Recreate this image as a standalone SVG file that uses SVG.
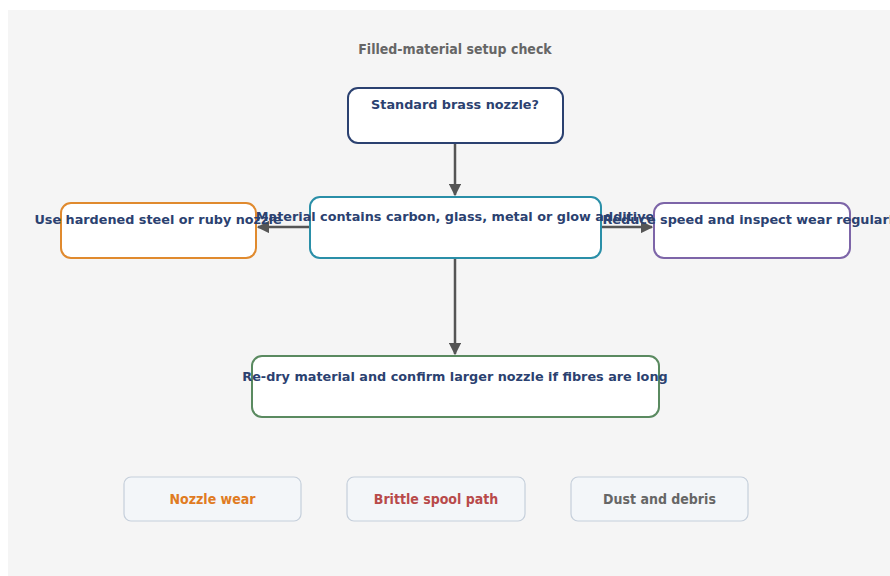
<svg xmlns="http://www.w3.org/2000/svg" width="890" height="576" viewBox="0 0 890 576">
<defs>
<marker id="arr" viewBox="0 0 10 10" refX="9" refY="5" markerWidth="5" markerHeight="5" orient="auto" markerUnits="strokeWidth">
<path d="M0,0 L10,5 L0,10 z" fill="#555"/>
</marker>
<style>
.node{fill:#fff;stroke-width:2}
.lbl{font-family:"DejaVu Sans",sans-serif;font-weight:bold;font-size:12.8px;fill:#2b4170;text-anchor:middle}
.title{font-family:"DejaVu Sans Condensed","DejaVu Sans",sans-serif;font-weight:bold;font-size:14px;fill:#666;text-anchor:middle}
.leg{fill:#f3f6f9;stroke:#c5cfdb;stroke-width:1.2}
.legt{font-family:"DejaVu Sans Condensed","DejaVu Sans",sans-serif;font-weight:bold;font-size:14px;text-anchor:middle}
.edge{stroke:#555;stroke-width:2.5;fill:none;marker-end:url(#arr)}
</style>
</defs>
<rect x="8" y="10" width="890" height="570" fill="#f5f5f5"/>
<text class="title" x="455" y="54">Filled-material setup check</text>
<g id="connectors">
<line class="edge" x1="455" y1="144" x2="455" y2="195"/>
<line class="edge" x1="309" y1="227" x2="258" y2="227"/>
<line class="edge" x1="602" y1="227" x2="652" y2="227"/>
<line class="edge" x1="455" y1="259" x2="455" y2="354"/>
</g>
<g id="n-brass">
<rect class="node" x="348" y="88" width="215" height="55" rx="10" stroke="#2b4170"/>
<text class="lbl" x="455" y="109">Standard brass nozzle?</text>
</g>
<g id="n-material">
<rect class="node" x="310" y="197" width="291" height="61" rx="10" stroke="#2a8fa8"/>
<text class="lbl" x="455" y="221">Material contains carbon, glass, metal or glow additive</text>
</g>
<g id="n-hardened">
<rect class="node" x="61" y="203" width="195" height="55" rx="10" stroke="#e08a2e"/>
<text class="lbl" x="158" y="224">Use hardened steel or ruby nozzle</text>
</g>
<g id="n-speed">
<rect class="node" x="654" y="203" width="196" height="55" rx="10" stroke="#7d65a8"/>
<text class="lbl" x="752" y="224">Reduce speed and inspect wear regularly</text>
</g>
<g id="n-redry">
<rect class="node" x="252" y="356" width="407" height="61" rx="10" stroke="#5a8a60"/>
<text class="lbl" x="455" y="381">Re-dry material and confirm larger nozzle if fibres are long</text>
</g>
<g id="legend-wear">
<rect class="leg" x="124" y="477" width="177" height="44" rx="7"/>
<text class="legt" x="212.5" y="504" fill="#e07b22">Nozzle wear</text>
</g>
<g id="legend-spool">
<rect class="leg" x="347" y="477" width="178" height="44" rx="7"/>
<text class="legt" x="436" y="504" fill="#b84a4a">Brittle spool path</text>
</g>
<g id="legend-dust">
<rect class="leg" x="571" y="477" width="177" height="44" rx="7"/>
<text class="legt" x="659.5" y="504" fill="#666">Dust and debris</text>
</g>
</svg>
